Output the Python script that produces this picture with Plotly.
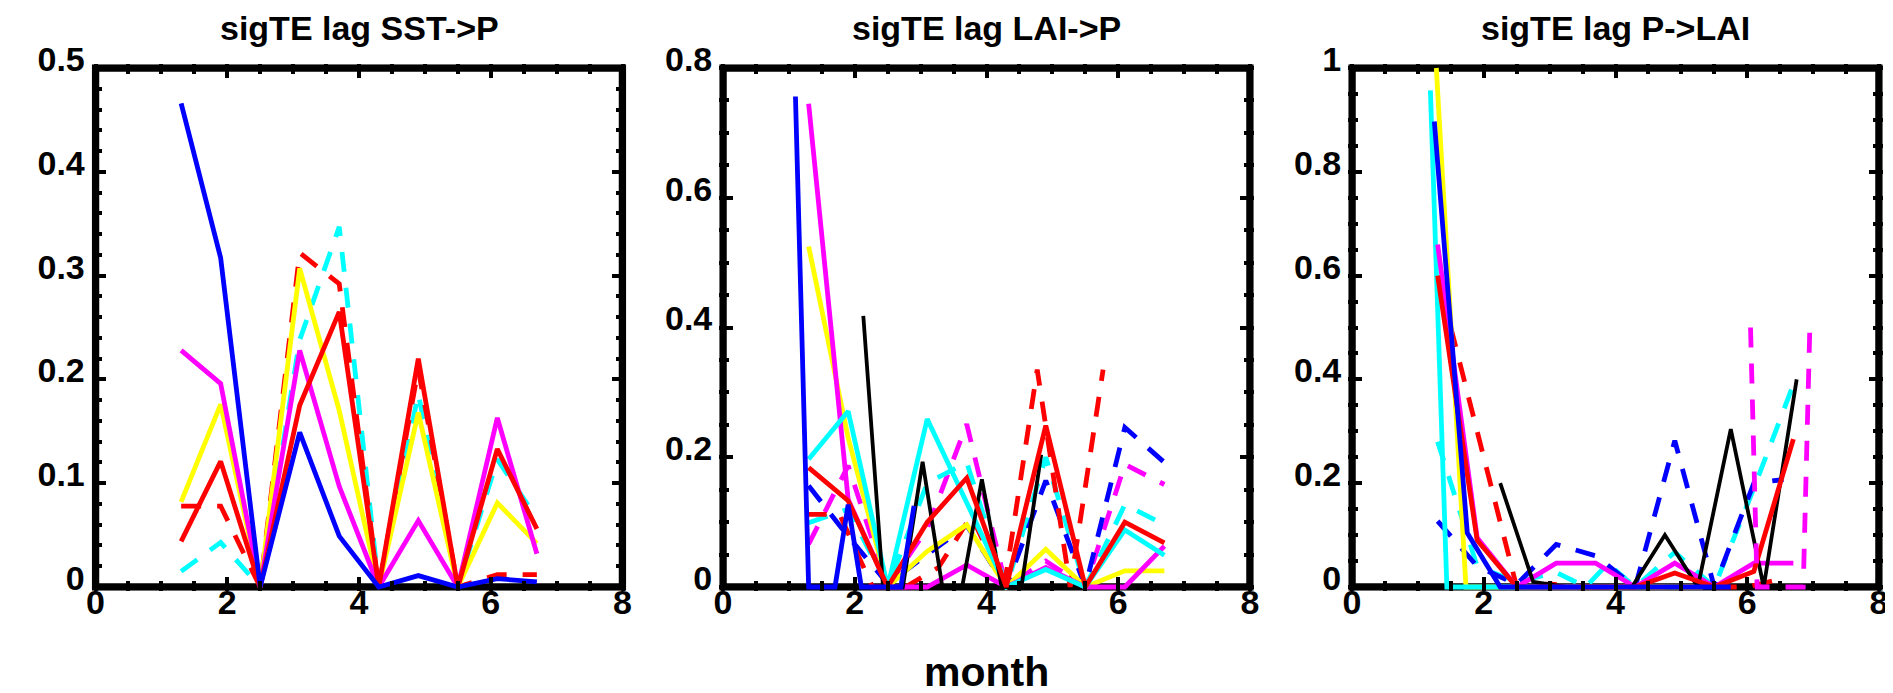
import plotly.graph_objects as go

W, H = 1893, 693

# ------------------------------------------------------------------ data
titles = ["sigTE lag SST->P", "sigTE lag LAI->P", "sigTE lag P->LAI"]
y_max = [0.5, 0.8, 1.0]
y_dtick = [0.1, 0.2, 0.2]
y_minor = [0.02, 0.05, 0.05]
x_ticks = [0, 2, 4, 6, 8]
x_label = "month"

grid06 = [1.3, 1.9, 2.5, 3.1, 3.7, 4.3, 4.9, 5.5, 6.1, 6.7]

# Panel 1 : sigTE lag SST->P
p1_yellow = [0.082, 0.176, 0.0, 0.307, 0.170, 0.0, 0.168, 0.0, 0.081, 0.042]
p1_magenta = [0.228, 0.196, 0.0, 0.228, 0.097, 0.0, 0.064, 0.0, 0.163, 0.032]
p1_red = [0.044, 0.121, 0.0, 0.175, 0.265, 0.0, 0.220, 0.0, 0.133, 0.056]
p1_blue = [0.466, 0.317, 0.0, 0.149, 0.049, 0.0, 0.011, 0.0, 0.008, 0.005]
p1_red_dash = [0.078, 0.078, 0.0, 0.322, 0.292, 0.0, 0.210, 0.0, 0.012, 0.012]
p1_cyan_dash = [0.015, 0.043, 0.0, 0.238, 0.347, 0.0, 0.186, 0.0, 0.123, 0.066]

# Panel 2 : sigTE lag LAI->P
p2_yellow = [0.525, 0.230, 0.0, 0.055, 0.096, 0.0, 0.058, 0.0, 0.025, 0.025]
p2_magenta = [0.745, 0.135, 0.0, 0.0, 0.034, 0.0, 0.030, 0.0, 0.0, 0.063]
p2_cyan = [0.197, 0.271, 0.0, 0.259, 0.130, 0.0, 0.027, 0.0, 0.088, 0.049]
p2_red = [0.184, 0.133, 0.0, 0.100, 0.168, 0.0, 0.249, 0.0, 0.100, 0.068]
p2_cyan_dash = [0.099, 0.120, 0.0, 0.160, 0.192, 0.0, 0.200, 0.0, 0.127, 0.096]
p2_magenta_dash = [0.066, 0.187, 0.0, 0.090, 0.251, 0.0, 0.040, 0.0, 0.189, 0.158]
p2_blue_dash = [0.156, 0.078, 0.005, 0.050, 0.095, 0.0, 0.164, 0.0, 0.246, 0.192]
p2_blue_x = [1.1, 1.3, 1.5, 1.7, 1.9, 2.1, 2.3, 2.5, 2.7, 2.9]
p2_blue = [0.756, 0.0, 0.0, 0.0, 0.127, 0.0, 0.0, 0.0, 0.0, 0.125]
p2_black_x = [2.13, 2.43, 2.73, 3.03, 3.33, 3.63, 3.93, 4.23, 4.53, 4.83]
p2_black = [0.418, 0.0, 0.0, 0.193, 0.0, 0.0, 0.166, 0.0, 0.0, 0.204]
p2_red_dash_x = [1.27, 1.77, 2.27, 2.77, 3.27, 3.77, 4.27, 4.77, 5.27, 5.77]
p2_red_dash = [0.112, 0.112, 0.0, 0.0, 0.030, 0.110, 0.0, 0.335, 0.0, 0.335]

# Panel 3 : sigTE lag P->LAI
p3_yellow_x = [1.28, 1.73, 2.18, 2.63, 3.08, 3.53, 3.98, 4.43, 4.88, 5.33]
p3_yellow = [1.0, 0.0, 0.0, 0.0, 0.0, 0.0, 0.0, 0.0, 0.0, 0.0]
p3_cyan_x = [1.19, 1.44, 1.69, 1.94, 2.19, 2.44, 2.69, 2.94, 3.19, 3.44]
p3_cyan = [0.957, 0.0, 0.0, 0.0, 0.0, 0.0, 0.0, 0.0, 0.0, 0.0]
p3_blue_x = [1.25, 1.75, 2.25, 2.75, 3.25, 3.75, 4.25, 4.75, 5.25, 5.75]
p3_blue = [0.897, 0.104, 0.0, 0.0, 0.0, 0.0, 0.0, 0.0, 0.0, 0.0]
p3_black_x = [2.25, 2.75, 3.25, 3.75, 4.25, 4.75, 5.25, 5.75, 6.25, 6.75]
p3_black = [0.200, 0.010, 0.0, 0.0, 0.0, 0.100, 0.0, 0.304, 0.0, 0.400]
p3_red = [0.600, 0.090, 0.0, 0.0, 0.0, 0.0, 0.027, 0.0, 0.030, 0.285]
p3_magenta = [0.660, 0.095, 0.0, 0.046, 0.046, 0.0, 0.046, 0.0, 0.046, 0.046]
p3_blue_dash_x = [1.3, 1.9, 2.5, 3.1, 3.7, 4.3, 4.9, 5.5, 6.1, 6.55]
p3_blue_dash = [0.127, 0.040, 0.005, 0.082, 0.060, 0.0, 0.282, 0.0, 0.200, 0.207]
p3_cyan_dash_x = [1.3, 1.9, 2.5, 3.1, 3.55, 3.88, 4.3, 4.9, 5.5, 6.1, 6.7]
p3_cyan_dash = [0.280, 0.040, 0.010, 0.028, 0.0, 0.045, 0.0, 0.067, 0.0, 0.190, 0.390]
p3_red_dash_x = [1.5, 2.5, 3.0, 3.5, 4.0, 4.5, 5.0, 5.5, 6.0, 6.55]
p3_red_dash = [0.500, 0.0, 0.006, 0.0, 0.0, 0.0, 0.0, 0.0, 0.0, 0.017]
p3_magenta_dash_x = [6.05, 6.15, 6.25, 6.35, 6.45, 6.55, 6.65, 6.75, 6.85, 6.95]
p3_magenta_dash = [0.500, 0.0, 0.0, 0.0, 0.0, 0.0, 0.0, 0.0, 0.0, 0.500]

YEL, MAG, CYA, RED, BLU, BLK = "#FFFF00", "#FF00FF", "#00FFFF", "#FF0000", "#0000FF", "#000000"

# (panel, x, y, colour, dashed) in drawing order
series = [
    (1, grid06, p1_cyan_dash, CYA, True),
    (1, grid06, p1_red_dash, RED, True),
    (1, grid06, p1_yellow, YEL, False),
    (1, grid06, p1_magenta, MAG, False),
    (1, grid06, p1_red, RED, False),
    (1, grid06, p1_blue, BLU, False),

    (2, grid06, p2_magenta_dash, MAG, True),
    (2, grid06, p2_cyan_dash, CYA, True),
    (2, grid06, p2_blue_dash, BLU, True),
    (2, p2_red_dash_x, p2_red_dash, RED, True),
    (2, grid06, p2_yellow, YEL, False),
    (2, grid06, p2_magenta, MAG, False),
    (2, grid06, p2_cyan, CYA, False),
    (2, p2_black_x, p2_black, BLK, False),
    (2, grid06, p2_red, RED, False),
    (2, p2_blue_x, p2_blue, BLU, False),

    (3, p3_cyan_dash_x, p3_cyan_dash, CYA, True),
    (3, p3_blue_dash_x, p3_blue_dash, BLU, True),
    (3, p3_red_dash_x, p3_red_dash, RED, True),
    (3, p3_yellow_x, p3_yellow, YEL, False),
    (3, p3_cyan_x, p3_cyan, CYA, False),
    (3, grid06, p3_magenta, MAG, False),
    (3, p3_black_x, p3_black, BLK, False),
    (3, grid06, p3_red, RED, False),
    (3, p3_blue_x, p3_blue, BLU, False),
    (3, p3_magenta_dash_x, p3_magenta_dash, MAG, True),
]

# ------------------------------------------------------------------ layout geometry (pixels)
frame_left = [87.5, 715.0, 1344.0]
frame_width = 527.0
frame_top, frame_bottom = 60.0, 579.0
FW = 7.5  # frame line width
half = FW / 2.0

FONT = "Liberation Sans, Arial, Helvetica, sans-serif"
TICK_FONT = dict(family=FONT, size=34, weight="bold", color="black")

fig = go.Figure()

for p, xs, ys, col, dashed in series:
    sfx = "" if p == 1 else str(p)
    fig.add_trace(go.Scatter(
        x=xs, y=ys, mode="lines", xaxis="x" + sfx, yaxis="y" + sfx,
        line=dict(color=col, width=4.8 if col != BLK else 3.8,
                  dash="20px,16px" if dashed else "solid"),
        showlegend=False, hoverinfo="skip"))

layout = dict(
    width=W, height=H, margin=dict(l=0, r=0, t=0, b=0),
    paper_bgcolor="white", plot_bgcolor="white", showlegend=False,
    font=dict(family=FONT, color="black"),
)

shapes, annotations = [], []
ydom = [1 - (frame_bottom + half) / H, 1 - (frame_top - half) / H]
plot_h = frame_bottom - frame_top
for i in range(3):
    sfx = "" if i == 0 else str(i + 1)
    x0 = frame_left[i] - half
    x1 = frame_left[i] + frame_width + half
    ax = 8.0 * half / frame_width
    by = y_max[i] * half / plot_h
    layout["xaxis" + sfx] = dict(
        domain=[x0 / W, x1 / W], range=[-ax, 8 + ax], anchor="y" + sfx,
        tickmode="array", tickvals=x_ticks,
        ticks="inside", ticklen=14, tickwidth=3.5, tickcolor="black",
        mirror="ticks", showline=False, showgrid=False, zeroline=False,
        minor=dict(ticks="inside", ticklen=10, tickwidth=3.5, tickcolor="black",
                   dtick=0.5, tick0=0, showgrid=False),
        tickfont=TICK_FONT, ticklabelstandoff=-12,
        automargin=False, fixedrange=True)
    layout["yaxis" + sfx] = dict(
        domain=ydom, range=[-by, y_max[i] + by], anchor="x" + sfx,
        tick0=0, dtick=y_dtick[i],
        ticks="inside", ticklen=14, tickwidth=3.5, tickcolor="black",
        mirror="ticks", showline=False, showgrid=False, zeroline=False,
        minor=dict(ticks="inside", ticklen=10, tickwidth=3.5, tickcolor="black",
                   dtick=y_minor[i], tick0=0, showgrid=False),
        tickfont=TICK_FONT, ticklabelshift=-9, ticklabelstandoff=6,
        automargin=False, fixedrange=True)
    shapes.append(dict(type="rect", xref="x" + sfx, yref="y" + sfx,
                       x0=0, x1=8, y0=0, y1=y_max[i],
                       line=dict(color="black", width=FW), layer="below"))
    annotations.append(dict(text=titles[i], xref="paper", yref="paper",
                            x=(frame_left[i] + frame_width / 2) / W, y=1 - 20 / H,
                            xanchor="center", yanchor="middle", showarrow=False,
                            borderpad=0,
                            font=dict(family=FONT, size=34, weight="bold", color="black")))

annotations.append(dict(text=x_label, xref="paper", yref="paper",
                        x=(frame_left[1] + frame_width / 2) / W, y=1 - 664 / H,
                        xanchor="center", yanchor="middle", showarrow=False,
                        font=dict(family=FONT, size=41, weight="bold", color="black")))

layout["shapes"] = shapes
layout["annotations"] = annotations
fig.update_layout(**layout)
fig.write_html("out.html")
